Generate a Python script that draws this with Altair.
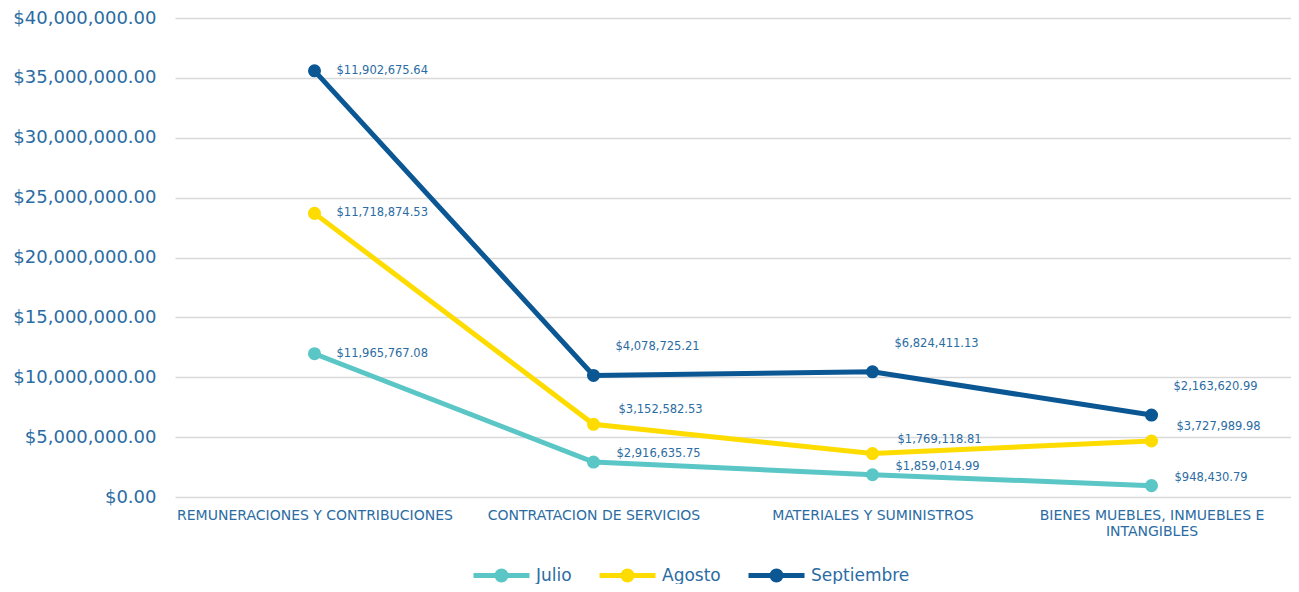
import altair as alt
import pandas as pd

categories = [
    "REMUNERACIONES Y CONTRIBUCIONES",
    "CONTRATACION DE SERVICIOS",
    "MATERIALES Y SUMINISTROS",
    "BIENES MUEBLES, INMUEBLES E INTANGIBLES",
]
series = ["Julio", "Agosto", "Septiembre"]
julio = [11965767.08, 2916635.75, 1859014.99, 948430.79]
agosto = [11718874.53, 3152582.53, 1769118.81, 3727989.98]
septiembre = [11902675.64, 4078725.21, 6824411.13, 2163620.99]
colors = ["#5BC6C6", "#FFDC00", "#0B5794"]

rows = []
for si, (name, vals) in enumerate(zip(series, [julio, agosto, septiembre])):
    for ci, (cat, v) in enumerate(zip(categories, vals)):
        rows.append({"categoria": cat, "serie": name, "idx": si, "cidx": ci, "valor": v})
df = pd.DataFrame(rows)

FONT = "DejaVu Sans"
TXT = "#2B6CA3"

base = alt.Chart(df).transform_window(
    acum="sum(valor)", groupby=["categoria"], sort=[{"field": "idx"}], frame=[None, 0]
)

x = alt.X(
    "categoria:N",
    sort=categories,
    title=None,
    axis=alt.Axis(
        labelAngle=0,
        labelFontSize=14,
        labelColor=TXT,
        labelFont=FONT,
        labelLimit=0,
        ticks=False,
        domain=False,
        labelPadding=11,
        labelExpr="datum.label == 'BIENES MUEBLES, INMUEBLES E INTANGIBLES' ? ['BIENES MUEBLES, INMUEBLES E', 'INTANGIBLES'] : datum.label",
    ),
)
y = alt.Y(
    "acum:Q",
    title=None,
    scale=alt.Scale(domain=[0, 40000000]),
    axis=alt.Axis(
        values=[0, 5e6, 10e6, 15e6, 20e6, 25e6, 30e6, 35e6, 40e6],
        format="$,.2f",
        labelFontSize=18,
        labelColor=TXT,
        labelFont=FONT,
        ticks=False,
        domain=False,
        labelPadding=19,
        gridColor="#D9D9D9",
        gridWidth=1.5,
    ),
)
color = alt.Color(
    "serie:N",
    sort=series,
    scale=alt.Scale(domain=series, range=colors),
    legend=alt.Legend(
        title=None,
        orient="none",
        direction="horizontal",
        legendX=296,
        legendY=527,
        labelFontSize=17,
        labelColor=TXT,
        labelFont=FONT,
        labelOffset=4,
        columnPadding=17,
        symbolType="M-1,0L1,0M0.16,0A0.16,0.16,0,1,1,-0.16,0A0.16,0.16,0,1,1,0.16,0Z",
        symbolSize=3136,
        symbolStrokeWidth=5,
    ),
)

lines = base.mark_line(strokeWidth=5).encode(x=x, y=y, color=color, detail="serie:N")
points = base.mark_circle(size=170, opacity=1).encode(x=x, y=y, color=color)

lbl_common = dict(align="left", baseline="middle", fontSize=11.5, font=FONT, color=TXT)
text_first = base.transform_filter("datum.cidx == 0").mark_text(dx=22, dy=0, **lbl_common).encode(
    x=x, y=y, text=alt.Text("valor:Q", format="$,.2f")
)
text_j = base.transform_filter("datum.cidx > 0 && datum.idx == 0").mark_text(dx=23, dy=-8, **lbl_common).encode(
    x=x, y=y, text=alt.Text("valor:Q", format="$,.2f")
)
text_a = base.transform_filter("datum.cidx > 0 && datum.idx == 1").mark_text(dx=25, dy=-14, **lbl_common).encode(
    x=x, y=y, text=alt.Text("valor:Q", format="$,.2f")
)
text_s = base.transform_filter("datum.cidx > 0 && datum.idx == 2").mark_text(dx=22, dy=-28, **lbl_common).encode(
    x=x, y=y, text=alt.Text("valor:Q", format="$,.2f")
)

chart = alt.layer(lines, points, text_first, text_j, text_a, text_s).properties(
    width=1116,
    height=479,
    autosize=alt.AutoSizeParams(type="none"),
    padding={"left": 167, "top": 10, "right": 0, "bottom": 87},
).configure_view(stroke=None)

chart.save("out.html", embed_options={"renderer": "svg", "actions": False})
